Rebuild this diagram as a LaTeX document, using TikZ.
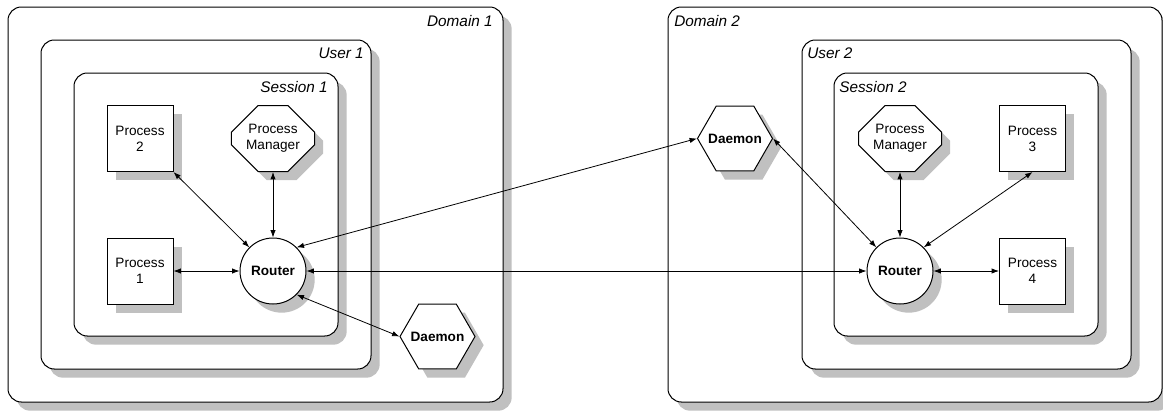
\documentclass[tikz,border=0pt]{standalone}
\usepackage{fontspec}
\setmainfont{Liberation Sans}
\usetikzlibrary{shapes.geometric,shapes.misc,shadows,arrows.meta}
\definecolor{shadowgray}{RGB}{192,192,192}
\begin{document}
\begin{tikzpicture}[x=0.75pt,y=-0.75pt,
  shad/.style={drop shadow={shadow xshift=6.5pt,shadow yshift=-6.5pt,fill=shadowgray,opacity=1}},
  container/.style={draw=black,line width=0.75pt,fill=white,rounded corners=10pt,shad,inner sep=0pt},
  lbl/.style={font=\fontsize{11.5}{13}\selectfont\itshape,inner sep=0pt},
  proc/.style={draw,fill=white,shad,line width=0.75pt,minimum size=49.5pt,align=center,font=\fontsize{10.2}{12}\selectfont,inner sep=1pt},
  pmbox/.style={proc,chamfered rectangle,chamfered rectangle xsep=10pt,chamfered rectangle ysep=10pt},
  router/.style={proc,circle,font=\fontsize{10.2}{12}\selectfont\bfseries},
  daemon/.style={draw,fill=white,shad,line width=0.75pt,regular polygon,regular polygon sides=6,inner sep=0pt,minimum size=56.25pt,font=\fontsize{10.2}{12}\selectfont\bfseries},
  link/.style={line width=0.6pt,{Latex[length=5.5pt,width=4pt]}-{Latex[length=5.5pt,width=4pt]}}
]
\useasboundingbox (0,0) rectangle (1163,411);

% containers
\node[container,minimum width=371.25pt,minimum height=296.25pt] (dom1) at (255.5,204.5) {};
\node[container,minimum width=247.5pt,minimum height=246.75pt] (usr1) at (206,204.5) {};
\node[container,minimum width=198pt,minimum height=197.25pt] (ses1) at (206,204.5) {};
\node[container,minimum width=370.5pt,minimum height=296.25pt] (dom2) at (915,204.5) {};
\node[container,minimum width=246.75pt,minimum height=246.75pt] (usr2) at (966.5,204.5) {};
\node[container,minimum width=198pt,minimum height=197.25pt] (ses2) at (966,204.5) {};

% labels
\node[lbl,anchor=east] (ldom1) at (493,21) {Domain 1};
\node[lbl,anchor=east] (lusr1) at (364,53) {User 1};
\node[lbl,anchor=east] (lses1) at (328,87) {Session 1};
\node[lbl,anchor=west] (ldom2) at (674,21) {Domain 2};
\node[lbl,anchor=west] (lusr2) at (807,53) {User 2};
\node[lbl,anchor=west] (lses2) at (839,87) {Session 2};

% domain 1 nodes
\node[proc] (p2) at (140,138.5) {Process\\2};
\node[proc] (p1) at (140,271) {Process\\1};
\node[pmbox] (pm1) at (273,138.5) {Process\\Manager};
\node[router] (r1) at (273,271) {Router};
\node[daemon] (d1) at (437.5,336.5) {\makebox[0pt]{Daemon}};

% domain 2 nodes
\node[daemon] (d2) at (735,138.5) {\makebox[0pt]{Daemon}};
\node[pmbox] (pm2) at (900,138.5) {Process\\Manager};
\node[proc] (p3) at (1032.5,138.5) {Process\\3};
\node[router] (r2) at (900,271) {Router};
\node[proc] (p4) at (1032.5,271) {Process\\4};

% links
\draw[link] (p2.south east) -- (r1.north west);
\draw[link] (pm1.south) -- (r1.north);
\draw[link] (p1.east) -- (r1.west);
\draw[link] (r1.south east) -- (d1.west);
\draw[link] (r1.north east) -- (d2.west);
\draw[link] (r1.east) -- (r2.west);
\draw[link] (d2.east) -- (r2.north west);
\draw[link] (pm2.south) -- (r2.north);
\draw[link] (p3.south) -- (r2.north east);
\draw[link] (r2.east) -- (p4.west);
\end{tikzpicture}
\end{document}
